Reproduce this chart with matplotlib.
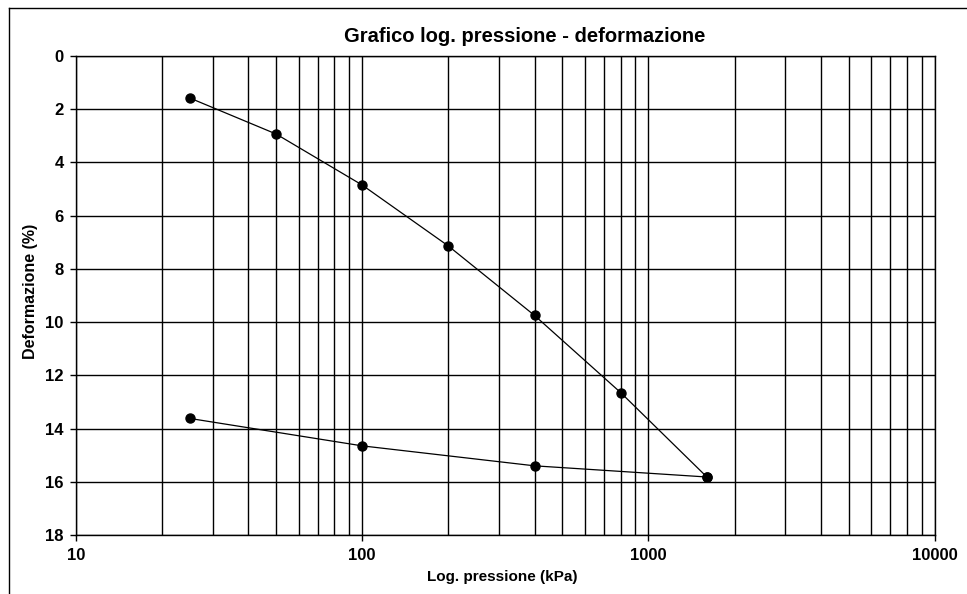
import matplotlib.pyplot as plt
from matplotlib.lines import Line2D
from matplotlib.ticker import LogLocator, FixedLocator, NullFormatter

# loading branch
carico_kpa = [25, 50, 100, 200, 400, 800, 1600]
carico_def = [1.58, 2.93, 4.85, 7.14, 9.75, 12.65, 15.82]

# unloading branch
scarico_kpa = [1600, 400, 100, 25]
scarico_def = [15.82, 15.4, 14.65, 13.62]

y_ticks = [0, 2, 4, 6, 8, 10, 12, 14, 16, 18]
x_ticks = [10, 100, 1000, 10000]

plt.rcParams["font.family"] = ["Liberation Sans", "DejaVu Sans"]

fig = plt.figure(figsize=(9.67, 5.94), dpi=100)
ax = fig.add_axes([0.0786, 0.0993, 0.888, 0.8064])

ax.plot(carico_kpa, carico_def, color="black", lw=0.9, marker="o", ms=6.5)
ax.plot(scarico_kpa, scarico_def, color="black", lw=0.9, marker="o", ms=6.5)

ax.set_xscale("log")
ax.set_xlim(10, 10000)
ax.set_ylim(18, 0)
ax.xaxis.set_major_locator(FixedLocator(x_ticks))
ax.xaxis.set_major_formatter(plt.FixedFormatter([str(t) for t in x_ticks]))
ax.xaxis.set_minor_locator(LogLocator(base=10, subs=range(2, 10)))
ax.xaxis.set_minor_formatter(NullFormatter())
ax.set_yticks(y_ticks)

ax.grid(True, which="both", axis="x", color="black", lw=1.0)
ax.grid(True, which="major", axis="y", color="black", lw=1.0)
ax.tick_params(axis="both", which="major", length=4, width=1, labelsize=12, pad=5)
ax.tick_params(axis="x", which="minor", length=0)
for lbl in ax.get_xticklabels() + ax.get_yticklabels():
    lbl.set_fontweight("bold")
for sp in ax.spines.values():
    sp.set_linewidth(1.0)

fig.text(0.543, 0.938, "Grafico log. pressione - deformazione", ha="center",
         va="center", fontsize=14.5, fontweight="bold")
fig.text(0.519, 0.029, "Log. pressione (kPa)", ha="center", va="center",
         fontsize=11, fontweight="bold")
fig.text(0.032, 0.51, "Deformazione (%)", ha="center", va="center",
         rotation=90, fontsize=11.5, fontweight="bold")

# outer frame of the scanned chart
fig.add_artist(Line2D([0.0093, 1.0], [0.986, 0.986], transform=fig.transFigure,
                      color="black", lw=1.0))
fig.add_artist(Line2D([0.0093, 0.0093], [0.0, 0.986], transform=fig.transFigure,
                      color="black", lw=1.0))

fig.savefig("out.png", dpi=100)
